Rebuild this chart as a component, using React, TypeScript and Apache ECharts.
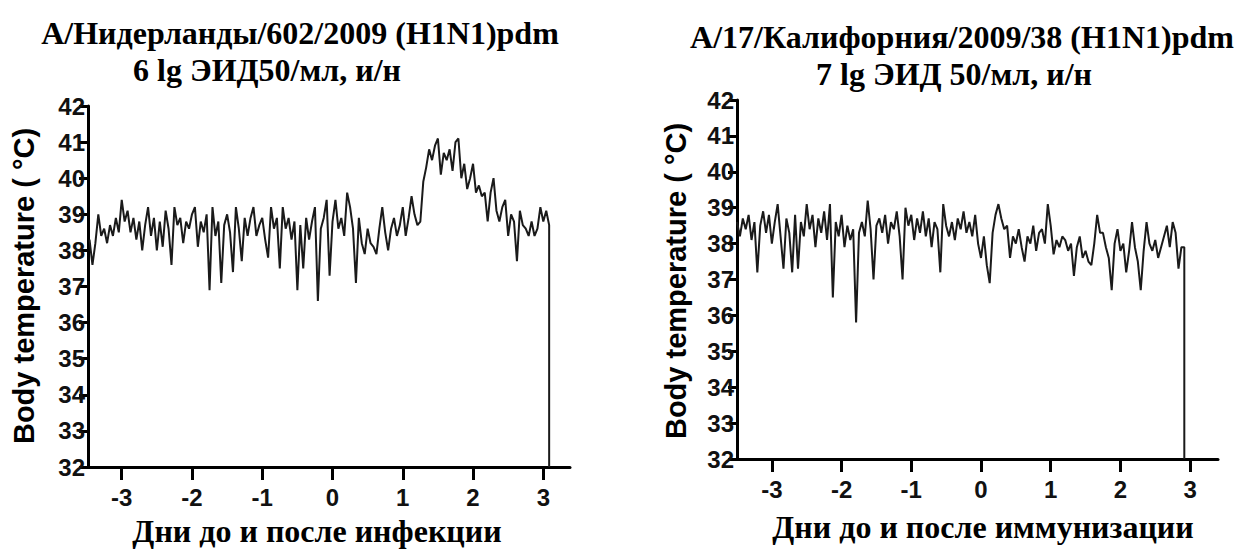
import React, { useEffect, useRef } from "react";
import * as echarts from "echarts";

// ---- data ----
const TITLE_LEFT_1 = "А/Нидерланды/602/2009 (H1N1)pdm";
const TITLE_LEFT_2 = "6 lg ЭИД50/мл, и/н";
const TITLE_RIGHT_1 = "А/17/Калифорния/2009/38 (H1N1)pdm";
const TITLE_RIGHT_2 = "7 lg ЭИД 50/мл, и/н";
const X_NAME_LEFT = "Дни до и после инфекции";
const X_NAME_RIGHT = "Дни до и после иммунизации";
const Y_NAME = "Body temperature ( °C)";

const X_TICKS = [-3, -2, -1, 0, 1, 2, 3];
const Y_MIN = 32;
const Y_MAX = 42;

// hourly readings; first reading at hour LEFT_START_HOUR (relative to infection)
const LEFT_START_HOUR = -83;
const LEFT_TEMPS = [
  38.3, 37.6, 38.2, 39.0, 38.4, 38.6, 38.2, 38.7, 38.4, 38.9, 38.5, 39.4,
  38.8, 39.1, 38.5, 38.9, 38.3, 38.8, 38.0, 38.7, 39.2, 38.4, 38.9, 38.0,
  38.8, 38.1, 39.1, 38.6, 37.6, 39.2, 38.7, 38.9, 38.2, 38.8, 38.6, 39.0,
  39.2, 38.1, 38.8, 38.5, 39.0, 36.9, 39.2, 38.4, 38.8, 37.1, 38.7, 39.0,
  38.5, 37.4, 39.2, 38.6, 37.7, 38.9, 38.4, 38.9, 39.2, 38.4, 38.7, 38.9,
  38.3, 37.8, 39.2, 38.6, 38.9, 37.5, 39.2, 38.6, 38.9, 38.3, 38.8, 36.9,
  38.7, 37.5, 38.9, 38.3, 38.8, 39.2, 36.6, 38.6, 38.9, 39.4, 37.3, 38.8,
  39.4, 38.6, 38.9, 38.4, 39.6, 39.2, 38.6, 37.1, 38.9, 38.2, 37.9, 38.6,
  38.2, 38.1, 37.9, 38.6, 39.2, 38.5, 38.0, 38.6, 38.9, 38.4, 38.7, 39.2,
  38.4, 38.9, 39.5, 39.0, 38.7, 38.8, 39.9, 40.3, 40.8, 40.5, 40.9, 41.1,
  40.1, 40.7, 40.5, 40.8, 40.2, 41.0, 41.1, 40.0, 40.4, 39.7, 40.0, 40.4,
  39.6, 39.8, 39.5, 39.6, 38.8, 39.6, 40.0, 39.1, 38.8, 39.2, 39.4, 38.4,
  39.0, 38.8, 37.7, 39.1, 38.7, 38.6, 38.4, 38.8, 38.4, 38.6, 39.2, 38.8,
  39.1, 38.7,
];
const LEFT_END_TEMP = 32;

const RIGHT_START_HOUR = -84;
const RIGHT_TEMPS = [
  38.6, 38.2, 38.7, 38.4, 38.8, 38.1, 38.6, 37.2, 38.5, 38.9, 38.3, 38.8,
  38.0, 38.6, 39.1, 38.2, 37.3, 38.7, 38.3, 37.2, 38.8, 37.3, 38.6, 38.2,
  39.1, 38.4, 38.8, 37.9, 38.7, 38.3, 38.9, 38.1, 39.1, 36.5, 38.6, 38.2,
  38.8, 37.9, 38.5, 38.1, 38.4, 35.8, 38.3, 38.6, 38.2, 39.2, 38.4, 37.0,
  38.5, 38.7, 38.3, 38.8, 38.0, 38.6, 38.4, 38.9, 38.2, 37.0, 39.0, 38.5,
  38.8, 38.1, 38.7, 38.3, 38.9, 38.2, 38.7, 37.9, 38.6, 38.4, 37.2, 39.1,
  38.5, 38.2, 38.6, 38.1, 38.7, 38.4, 38.9, 38.3, 38.6, 38.2, 38.8, 38.0,
  37.6, 38.2, 37.4, 36.9, 38.3, 38.8, 39.1, 38.7, 38.4, 38.5, 37.6, 38.2,
  38.0, 38.4, 37.9, 37.5, 38.2, 38.0, 38.5, 37.8, 38.3, 38.4, 38.0, 39.1,
  38.5, 37.7, 38.1, 37.9, 38.2, 38.1, 37.8, 38.0, 37.1, 37.9, 38.2, 37.6,
  37.8, 37.5, 37.4, 38.0, 38.8, 38.3, 38.3, 37.9, 37.6, 36.7, 38.0, 38.4,
  37.8, 38.0, 37.2, 37.8, 38.6, 37.9, 37.5, 36.7, 37.8, 38.6, 38.0, 37.8,
  38.1, 37.6, 37.9, 38.2, 38.5, 37.9, 38.6, 38.3, 37.3, 37.9, 37.9,
];
const RIGHT_END_TEMP = 32;

const HOURS_PER_DAY = 24;

function toSeries(startHour: number, temps: number[], endTemp: number) {
  const pts: number[][] = temps.map((t, i) => [(startHour + i) / HOURS_PER_DAY, t]);
  const last = pts[pts.length - 1];
  pts.push([last[0], endTemp]);
  return pts;
}

const SERIF = '"Liberation Serif", "Times New Roman", serif';
const SANS = '"Liberation Sans", Arial, sans-serif';

function xAxis(gridIndex: number, min: number, max: number) {
  return {
    type: "value",
    gridIndex,
    min,
    max,
    splitLine: { show: false },
    axisLine: { show: true, onZero: false, lineStyle: { color: "#000", width: 3 } },
    axisTick: {
      show: true,
      customValues: X_TICKS,
      length: 13,
      lineStyle: { color: "#000", width: 3 },
    },
    axisLabel: {
      customValues: X_TICKS,
      formatter: (v: number) => String(v),
      color: "#111",
      fontFamily: SANS,
      fontWeight: "bold",
      fontSize: 24,
      margin: 18,
      showMinLabel: true,
      showMaxLabel: true,
    },
  };
}

function yAxis(gridIndex: number) {
  return {
    type: "value",
    gridIndex,
    min: Y_MIN,
    max: Y_MAX,
    interval: 1,
    splitLine: { show: false },
    axisLine: { show: true, onZero: false, lineStyle: { color: "#000", width: 3 } },
    axisTick: { show: true, length: 9, lineStyle: { color: "#000", width: 3 } },
    axisLabel: {
      color: "#111",
      fontFamily: SANS,
      fontWeight: "bold",
      fontSize: 24,
      margin: 3,
    },
  };
}

function txt(text: string, x: number, y: number, font: string, rotation = 0) {
  return {
    type: "text",
    x,
    y,
    rotation,
    style: {
      text,
      font,
      fill: "#000",
      align: "center",
      verticalAlign: "middle",
    },
  };
}

export default function App() {
  const ref = useRef<HTMLDivElement>(null);
  useEffect(() => {
    if (!ref.current) return;
    const chart = echarts.init(ref.current, undefined, { renderer: "svg" });
    const titleFont = `bold 32px ${SERIF}`;
    const yNameFont = `bold 29px ${SANS}`;
    chart.setOption({
      animation: false,
      backgroundColor: "#fff",
      grid: [
        { left: 88, top: 106, width: 482, height: 361, containLabel: false },
        { left: 737, top: 100, width: 481, height: 359, containLabel: false },
      ],
      xAxis: [xAxis(0, -3.48, 3.38), xAxis(1, -3.5, 3.4)],
      yAxis: [yAxis(0), yAxis(1)],
      series: [
        {
          type: "line",
          xAxisIndex: 0,
          yAxisIndex: 0,
          data: toSeries(LEFT_START_HOUR, LEFT_TEMPS, LEFT_END_TEMP),
          showSymbol: false,
          lineStyle: { color: "#1a1a1a", width: 2 },
        },
        {
          type: "line",
          xAxisIndex: 1,
          yAxisIndex: 1,
          data: toSeries(RIGHT_START_HOUR, RIGHT_TEMPS, RIGHT_END_TEMP),
          showSymbol: false,
          lineStyle: { color: "#1a1a1a", width: 2 },
        },
      ],
      graphic: [
        txt(TITLE_LEFT_1, 300, 33, titleFont),
        txt(TITLE_LEFT_2, 267, 70, titleFont),
        txt(TITLE_RIGHT_1, 962, 37, titleFont),
        txt(TITLE_RIGHT_2, 954, 74, titleFont),
        txt(X_NAME_LEFT, 317, 531, `bold 32px ${SERIF}`),
        txt(X_NAME_RIGHT, 983, 527, `bold 32px ${SERIF}`),
        txt(Y_NAME, 24, 286, yNameFont, Math.PI / 2),
        txt(Y_NAME, 676, 281, yNameFont, Math.PI / 2),
      ],
    });
    return () => chart.dispose();
  }, []);
  return (
    <div
      ref={ref}
      style={{ position: "fixed", left: 0, top: 0, width: 1242, height: 550, background: "#fff" }}
    />
  );
}
